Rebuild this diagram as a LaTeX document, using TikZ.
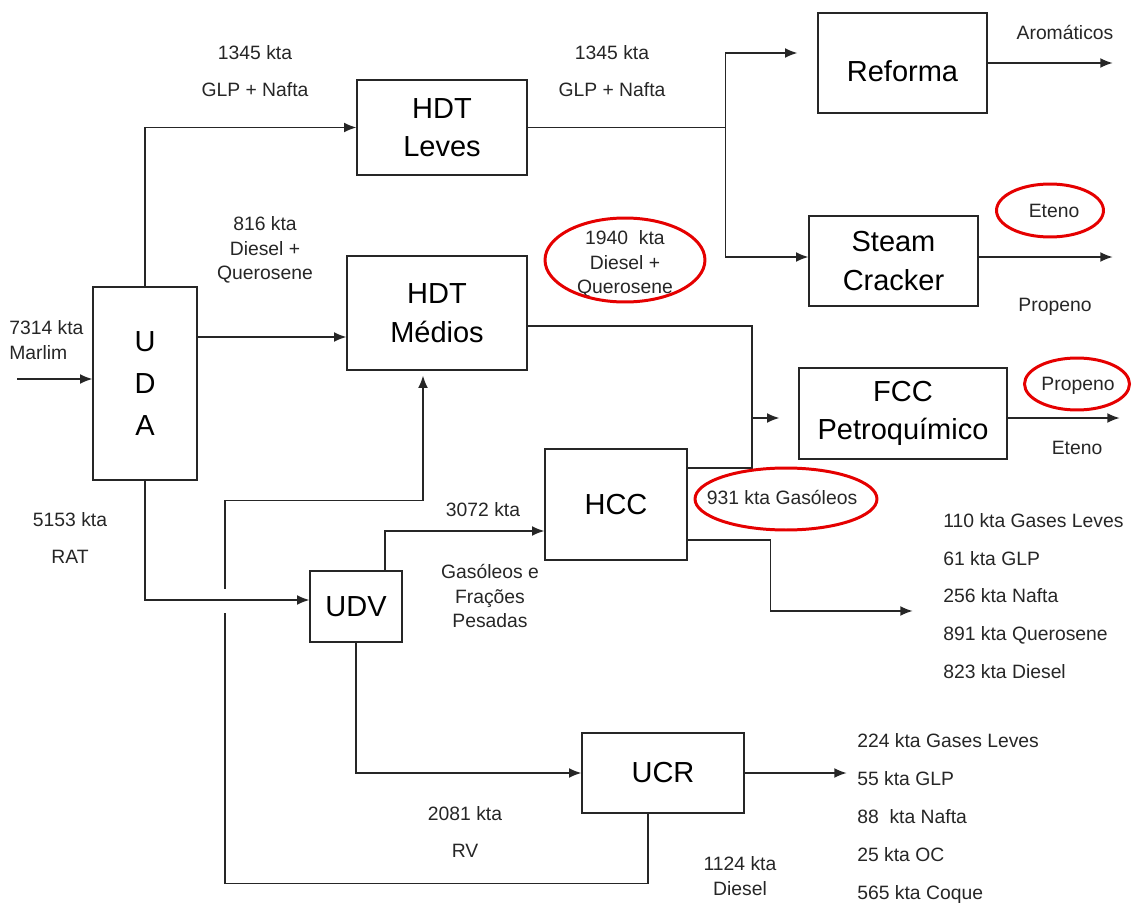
\documentclass[tikz,border=0pt]{standalone}
\usepackage{fontspec}
\setmainfont{Liberation Sans}
\usepackage{tikz}
\usetikzlibrary{calc, arrows.meta}

\begin{document}
\begin{tikzpicture}[x=0.02cm, y=-0.02cm,
        unit/.style={draw=black!85, line width=0.75pt, inner sep=0pt, align=center, font=\fontsize{16.5}{22}\selectfont},
        pipe/.style={draw=black!85, line width=0.75pt},
        flow/.style={pipe, -{Latex[length=7pt, width=5.6pt]}},
        lbl/.style={align=center, inner sep=0pt, text=black!85, font=\fontsize{11}{14}\selectfont},
        wide/.style={lbl, font=\fontsize{11}{21.5}\selectfont},
        ring/.style={red!90!black, line width=1.7pt}]
        \useasboundingbox (0,0) rectangle (1134,906);

        % process units
        \node[unit, minimum width=2.08cm, minimum height=3.86cm, font=\fontsize{16.5}{24}\selectfont](uda) at (145,383.5){U\\D\\A};
        \node[unit, minimum width=3.4cm, minimum height=1.9cm](hdtl) at (442,127.5){HDT\\Leves};
        \node[unit, minimum width=3.6cm, minimum height=2.28cm](hdtm) at (437,313){HDT\\Médios};
        \node[unit, minimum width=3.38cm, minimum height=2.0cm, text height=21pt](ref) at (902.5,63){Reforma};
        \node[unit, minimum width=3.38cm, minimum height=1.8cm](stc) at (893.5,261){Steam\\Cracker};
        \node[unit, minimum width=4.16cm, minimum height=1.82cm](fcc) at (903,413.5){FCC\\Petroquímico};
        \node[unit, minimum width=2.84cm, minimum height=2.22cm](hcc) at (616,504.5){HCC};
        \node[unit, minimum width=1.84cm, minimum height=1.42cm](udv) at (356,606.5){UDV};
        \node[unit, minimum width=3.24cm, minimum height=1.6cm](ucr) at (663,773){UCR};

        % feed
        \coordinate (feed) at (17,379);
        \draw[flow] (feed) -- (feed -| uda.west);

        % UDA outlets
        \draw[flow] (uda.north) |- (hdtl.west);
        \coordinate (mIn) at ([yshift=-0.48cm]hdtm.west);
        \draw[flow] (uda.east |- mIn) -- (mIn);
        \draw[flow] (uda.south) |- ([yshift=0.13cm]udv.west);

        % light ends to reforma and steam cracker
        \draw[pipe] (hdtl.east) -- ++(198,0) coordinate (split);
        \draw[flow] (split) |- ([xshift=-0.4cm,yshift=0.2cm]ref.west);
        \draw[flow] (split) |- ([yshift=0.08cm]stc.west);
        \draw[flow] (ref.east) -- ++(125,0);
        \draw[flow] ([yshift=0.08cm]stc.east) -- ++(134,0);

        % middle distillates and gasoils to FCC
        \coordinate (merge) at (752,418);
        \draw[pipe] ([yshift=-0.26cm]hdtm.east) -| (merge);
        \draw[pipe] ([yshift=0.73cm]hcc.east) -| (merge);
        \draw[flow] (merge) -- ([xshift=-0.38cm]merge -| fcc.west);
        \draw[flow] (merge -| fcc.east) -- ++(112,0);

        % vacuum unit
        \draw[flow] ([xshift=0.58cm]udv.north) |- ([yshift=-0.53cm]hcc.west);
        \draw[flow] (udv.south) |- (ucr.west);
        \draw[flow] ([yshift=-0.71cm]hcc.east) -- ++(83,0) -- ++(0,71) -- ++(142,0);
        \draw[flow] (ucr.east) -- ++(102,0);

        % diesel recycle from UCR
        \draw[pipe] ([xshift=-0.3cm]ucr.south) -- ++(0,70) -- ++(-423,0) -- ++(0,-271) coordinate (jb);
        \draw[flow] (jb) ++(0,-24) -- ++(0,-88) -| ([xshift=-0.28cm,yshift=-0.1cm]hdtm.south);

        % labels
        \node[lbl, align=left, anchor=west](lmar) at (9,340){7314 kta\\Marlim};
        \node[wide](lglp1) at (255,71){1345 kta\\GLP + Nafta};
        \node[wide](lglp2) at (612,71){1345 kta\\GLP + Nafta};
        \node[lbl](ldie) at (265,250){816 kta\\Diesel +\\Querosene};
        \node[wide](lrat) at (70,538){5153 kta\\RAT};
        \node[lbl](laro) at (1065,32){Aromáticos};
        \node[lbl](lpro1) at (1055,307){Propeno};
        \node[lbl](let2) at (1077,448){Eteno};
        \node[lbl](lgas) at (483,510){3072 kta};
        \node[lbl](lfra) at (490,596){Gasóleos e\\Frações\\Pesadas};
        \node[wide](lrv) at (465,832){2081 kta\\RV};
        \node[lbl](ldsl) at (740,876){1124 kta\\Diesel};
        \node[wide, align=left, anchor=west](lhcc) at (943,596){110 kta Gases Leves\\61 kta GLP\\256 kta Nafta\\891 kta Querosene\\823 kta Diesel};
        \node[wide, align=left, anchor=west](lucr) at (857,818.5){224 kta Gases Leves\\55 kta GLP\\88~ kta Nafta\\25 kta OC\\565 kta Coque};

        % highlighted streams
        \node[lbl](l1940) at (625,264){1940~ kta\\Diesel +\\Querosene};
        \draw[ring] (625,260) ellipse [x radius=1.6cm, y radius=0.84cm];
        \node[lbl](let1) at (1054,211){Eteno};
        \draw[ring] (1050,210.5) ellipse [x radius=1.07cm, y radius=0.53cm];
        \node[lbl](lpro2) at (1078,386){Propeno};
        \draw[ring] (1077,384) ellipse [x radius=1.05cm, y radius=0.52cm];
        \node[lbl](l931) at (782,497){931 kta Gasóleos};
        \draw[ring] (786,499) ellipse [x radius=1.82cm, y radius=0.62cm];
    \end{tikzpicture}
\end{document}
